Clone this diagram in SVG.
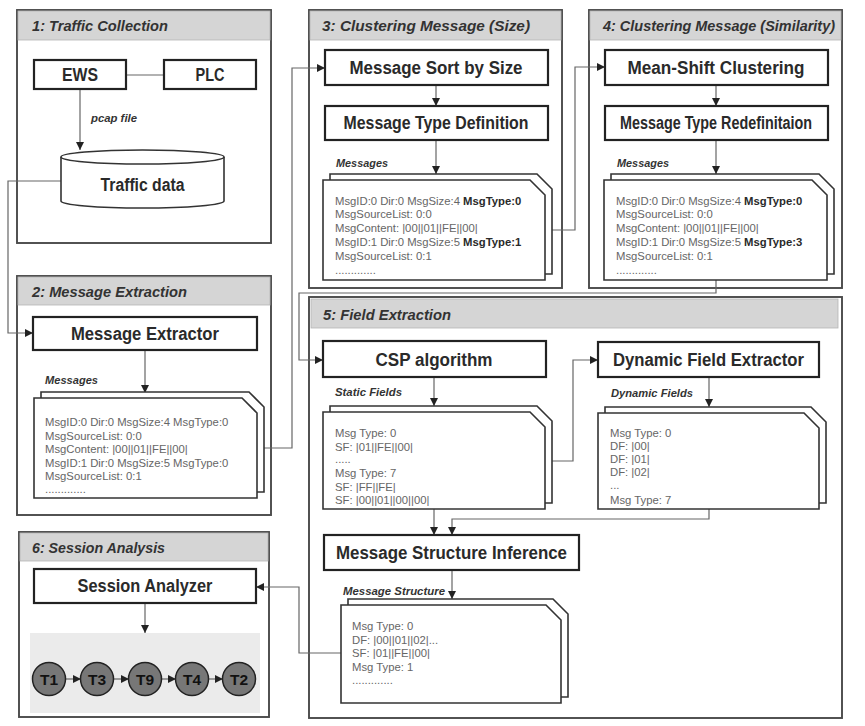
<svg xmlns="http://www.w3.org/2000/svg" width="865" height="726" viewBox="0 0 865 726">
<defs>
<style>
.frame{fill:#fff;stroke:#4a4a4a;stroke-width:1.9}
.hdr{fill:#d5d5d5;stroke:#b5b5b5;stroke-width:0.8}
.ttl{font-family:"Liberation Sans",Arial,sans-serif;font-style:italic;font-weight:bold;font-size:15px;fill:#333}
.box{fill:#fff;stroke:#222;stroke-width:2.2}
.bl{font-family:"Liberation Sans",Arial,sans-serif;font-weight:bold;font-size:18px;fill:#2a2a2a;text-anchor:middle}
.sheet{fill:#fff;stroke:#333;stroke-width:1.6}
.lbl{font-family:"Liberation Sans",Arial,sans-serif;font-style:italic;font-weight:bold;font-size:11.5px;fill:#333}
.msg{font-family:"Liberation Sans",Arial,sans-serif;font-size:11.3px;fill:#666}
.b{font-weight:bold;fill:#2a2a2a}
.con{fill:none;stroke:#666;stroke-width:1.2}
.circ{fill:#777;stroke:#222;stroke-width:1.5}
.ct{font-family:"Liberation Sans",Arial,sans-serif;font-weight:bold;font-size:15.5px;fill:#111;text-anchor:middle}
</style>
<marker id="ah" viewBox="0 0 10 10" refX="10" refY="5" markerWidth="8" markerHeight="8" markerUnits="userSpaceOnUse" orient="auto">
<path d="M0,0 L10,5 L0,10 Z" fill="#222"/>
</marker>
</defs>
<rect width="865" height="726" fill="#fff"/>

<!-- Panel frames -->
<g id="panel1">
<rect class="frame" x="17" y="10" width="254" height="233"/>
<rect class="hdr" x="18" y="11" width="252" height="29"/>
<text class="ttl" x="32" y="31" textLength="136" lengthAdjust="spacingAndGlyphs">1: Traffic Collection</text>
</g>
<g id="panel2">
<rect class="frame" x="17" y="276" width="254" height="239"/>
<rect class="hdr" x="18" y="277" width="252" height="28"/>
<text class="ttl" x="32" y="297" textLength="155" lengthAdjust="spacingAndGlyphs">2: Message Extraction</text>
</g>
<g id="panel3">
<rect class="frame" x="309" y="10" width="253" height="278"/>
<rect class="hdr" x="310" y="11" width="251" height="29"/>
<text class="ttl" x="322" y="31" textLength="208" lengthAdjust="spacingAndGlyphs">3: Clustering Message (Size)</text>
</g>
<g id="panel4">
<rect class="frame" x="589" y="10" width="253" height="278"/>
<rect class="hdr" x="590" y="11" width="251" height="29"/>
<text class="ttl" x="603" y="31" textLength="232" lengthAdjust="spacingAndGlyphs">4: Clustering Message (Similarity)</text>
</g>
<g id="panel5">
<rect class="frame" x="309" y="297" width="533" height="421"/>
<rect class="hdr" x="311" y="299" width="527" height="29"/>
<text class="ttl" x="323" y="320" textLength="128" lengthAdjust="spacingAndGlyphs">5: Field Extraction</text>
</g>
<g id="panel6">
<rect class="frame" x="19" y="532" width="250" height="185"/>
<rect class="hdr" x="20" y="533" width="248" height="28"/>
<text class="ttl" x="32" y="553" textLength="133" lengthAdjust="spacingAndGlyphs">6: Session Analysis</text>
<rect x="30" y="633" width="230" height="80" fill="#ebebeb"/>
</g>

<!-- Connectors -->
<g id="connectors">
<line class="con" x1="126" y1="75" x2="164" y2="75"/>
<path class="con" d="M80,89 V150" marker-end="url(#ah)"/>
<path class="con" d="M61,181 H8 V333 H33" marker-end="url(#ah)"/>
<path class="con" d="M257,448 H292 V68 H325" marker-end="url(#ah)"/>
<path class="con" d="M436,85 V106" marker-end="url(#ah)"/>
<path class="con" d="M436,140 V174" marker-end="url(#ah)"/>
<path class="con" d="M545,230 H575 V67 H605" marker-end="url(#ah)"/>
<path class="con" d="M716,85 V106" marker-end="url(#ah)"/>
<path class="con" d="M716,140 V174" marker-end="url(#ah)"/>
<path class="con" d="M716,280 V293 H299 V360 H323" marker-end="url(#ah)"/>
<path class="con" d="M145,350 V393" marker-end="url(#ah)"/>
<path class="con" d="M434,377 V406" marker-end="url(#ah)"/>
<path class="con" d="M545,461 H573 V360 H598" marker-end="url(#ah)"/>
<path class="con" d="M709,377 V407" marker-end="url(#ah)"/>
<path class="con" d="M434,509 V535" marker-end="url(#ah)"/>
<path class="con" d="M709,509 V519 H452 V535" marker-end="url(#ah)"/>
<path class="con" d="M452,570 V599" marker-end="url(#ah)"/>
<path class="con" d="M341,653 H299 V587 H256" marker-end="url(#ah)"/>
<path class="con" d="M145,603 V633" marker-end="url(#ah)"/>
<path class="con" d="M65,679 H81" marker-end="url(#ah)"/>
<path class="con" d="M113,679 H129" marker-end="url(#ah)"/>
<path class="con" d="M161,679 H176" marker-end="url(#ah)"/>
<path class="con" d="M208,679 H223" marker-end="url(#ah)"/>
</g>

<!-- Panel 1 nodes -->
<g id="ews">
<rect class="box" x="34" y="60" width="92" height="29"/>
<text class="bl" x="80" y="81" textLength="36" lengthAdjust="spacingAndGlyphs">EWS</text>
</g>
<g id="plc">
<rect class="box" x="164" y="60" width="92" height="29"/>
<text class="bl" x="210" y="81" textLength="29" lengthAdjust="spacingAndGlyphs">PLC</text>
</g>
<text class="lbl" x="91" y="122" fill="#444" textLength="46" lengthAdjust="spacingAndGlyphs">pcap file</text>
<g id="traffic-data">
<path d="M61,157 V201 A81.5,7 0 0 0 224,201 V157" fill="#fff" stroke="#333" stroke-width="1.6"/>
<ellipse cx="142.5" cy="157" rx="81.5" ry="7" fill="#fff" stroke="#333" stroke-width="1.6"/>
<text class="bl" x="142.5" y="191" font-size="17" textLength="84" lengthAdjust="spacingAndGlyphs">Traffic data</text>
</g>

<!-- Panel 2 nodes -->
<g id="message-extractor">
<rect class="box" x="33" y="317" width="224" height="33"/>
<text class="bl" x="145" y="340" textLength="148" lengthAdjust="spacingAndGlyphs">Message Extractor</text>
</g>
<g id="messages-2">
<text class="lbl" x="45" y="384" textLength="53" lengthAdjust="spacingAndGlyphs">Messages</text>
<path class="sheet" d="M41,392 H249 L264,407 V492 H41 Z"/>
<path class="sheet" d="M34,398 H242 L257,413 V498 H34 Z"/>
<text class="msg" x="45" y="426">MsgID:0 Dir:0 MsgSize:4 MsgType:0</text>
<text class="msg" x="45" y="440">MsgSourceList: 0:0</text>
<text class="msg" x="45" y="453">MsgContent: |00||01||FE||00|</text>
<text class="msg" x="45" y="467">MsgID:1 Dir:0 MsgSize:5 MsgType:0</text>
<text class="msg" x="45" y="480">MsgSourceList: 0:1</text>
<text class="msg" x="45" y="493" font-size="8">.............</text>
</g>

<!-- Panel 3 nodes -->
<g id="message-sort">
<rect class="box" x="325" y="50" width="223" height="35"/>
<text class="bl" x="436" y="74" textLength="173" lengthAdjust="spacingAndGlyphs">Message Sort by Size</text>
</g>
<g id="message-type-def">
<rect class="box" x="325" y="106" width="223" height="34"/>
<text class="bl" x="436" y="129" font-size="17" textLength="185" lengthAdjust="spacingAndGlyphs">Message Type Definition</text>
</g>
<g id="messages-3">
<text class="lbl" x="336" y="167" textLength="52" lengthAdjust="spacingAndGlyphs">Messages</text>
<path class="sheet" d="M330,174 H537 L552,189 V274 H330 Z"/>
<path class="sheet" d="M323,180 H530 L545,195 V280 H323 Z"/>
<text class="msg" x="335" y="205">MsgID:0 Dir:0 MsgSize:4 <tspan class="b">MsgType:0</tspan></text>
<text class="msg" x="335" y="218">MsgSourceList: 0:0</text>
<text class="msg" x="335" y="232">MsgContent: |00||01||FE||00|</text>
<text class="msg" x="335" y="246">MsgID:1 Dir:0 MsgSize:5 <tspan class="b">MsgType:1</tspan></text>
<text class="msg" x="335" y="260">MsgSourceList: 0:1</text>
<text class="msg" x="335" y="274" font-size="8">.............</text>
</g>

<!-- Panel 4 nodes -->
<g id="mean-shift">
<rect class="box" x="605" y="50" width="223" height="35"/>
<text class="bl" x="716" y="74" textLength="177" lengthAdjust="spacingAndGlyphs">Mean-Shift Clustering</text>
</g>
<g id="message-type-redef">
<rect class="box" x="605" y="106" width="223" height="34"/>
<text class="bl" x="716" y="129" font-size="16" textLength="192" lengthAdjust="spacingAndGlyphs">Message Type Redefinitaion</text>
</g>
<g id="messages-4">
<text class="lbl" x="617" y="167" textLength="52" lengthAdjust="spacingAndGlyphs">Messages</text>
<path class="sheet" d="M611,174 H819 L834,189 V274 H611 Z"/>
<path class="sheet" d="M604,180 H812 L827,195 V280 H604 Z"/>
<text class="msg" x="616" y="205">MsgID:0 Dir:0 MsgSize:4 <tspan class="b">MsgType:0</tspan></text>
<text class="msg" x="616" y="218">MsgSourceList: 0:0</text>
<text class="msg" x="616" y="232">MsgContent: |00||01||FE||00|</text>
<text class="msg" x="616" y="246">MsgID:1 Dir:0 MsgSize:5 <tspan class="b">MsgType:3</tspan></text>
<text class="msg" x="616" y="260">MsgSourceList: 0:1</text>
<text class="msg" x="616" y="274" font-size="8">.............</text>
</g>

<!-- Panel 5 nodes -->
<g id="csp">
<rect class="box" x="323" y="341" width="223" height="36"/>
<text class="bl" x="434" y="366" font-size="19" textLength="117" lengthAdjust="spacingAndGlyphs">CSP algorithm</text>
</g>
<g id="static-fields">
<text class="lbl" x="335" y="396" textLength="67" lengthAdjust="spacingAndGlyphs">Static Fields</text>
<path class="sheet" d="M330,406 H537 L552,421 V503 H330 Z"/>
<path class="sheet" d="M323,412 H530 L545,427 V509 H323 Z"/>
<text class="msg" x="335" y="437">Msg Type: 0</text>
<text class="msg" x="335" y="451">SF: |01||FE||00|</text>
<text class="msg" x="335" y="463" font-size="8">.....</text>
<text class="msg" x="335" y="477">Msg Type: 7</text>
<text class="msg" x="335" y="491">SF: |FF||FE|</text>
<text class="msg" x="335" y="504">SF: |00||01||00||00|</text>
</g>
<g id="dynamic-field-extractor">
<rect class="box" x="598" y="342" width="221" height="35"/>
<text class="bl" x="708.5" y="366" textLength="191" lengthAdjust="spacingAndGlyphs">Dynamic Field Extractor</text>
</g>
<g id="dynamic-fields">
<text class="lbl" x="611" y="397" textLength="82" lengthAdjust="spacingAndGlyphs">Dynamic Fields</text>
<path class="sheet" d="M605,407 H811 L826,422 V503 H605 Z"/>
<path class="sheet" d="M598,413 H804 L819,428 V509 H598 Z"/>
<text class="msg" x="610" y="437">Msg Type: 0</text>
<text class="msg" x="610" y="450">DF: |00|</text>
<text class="msg" x="610" y="463">DF: |01|</text>
<text class="msg" x="610" y="476">DF: |02|</text>
<text class="msg" x="610" y="489" font-size="8">...</text>
<text class="msg" x="610" y="504">Msg Type: 7</text>
</g>
<g id="msi">
<rect class="box" x="324" y="535" width="255" height="35"/>
<text class="bl" x="451.5" y="559" textLength="231" lengthAdjust="spacingAndGlyphs">Message Structure Inference</text>
</g>
<g id="message-structure">
<text class="lbl" x="343" y="595" textLength="102" lengthAdjust="spacingAndGlyphs">Message Structure</text>
<path class="sheet" d="M348,599 H553 L568,614 V697 H348 Z"/>
<path class="sheet" d="M341,605 H546 L561,620 V703 H341 Z"/>
<text class="msg" x="352" y="630">Msg Type: 0</text>
<text class="msg" x="352" y="644">DF: |00||01||02|...</text>
<text class="msg" x="352" y="657">SF: |01||FE||00|</text>
<text class="msg" x="352" y="671">Msg Type: 1</text>
<text class="msg" x="352" y="684" font-size="8">.............</text>
</g>

<!-- Panel 6 nodes -->
<g id="session-analyzer">
<rect class="box" x="34" y="569" width="222" height="34"/>
<text class="bl" x="145" y="592" textLength="135" lengthAdjust="spacingAndGlyphs">Session Analyzer</text>
</g>
<g id="t1"><circle class="circ" cx="49" cy="679" r="16.5"/><text class="ct" x="49" y="684.5">T1</text></g>
<g id="t3"><circle class="circ" cx="97" cy="679" r="16.5"/><text class="ct" x="97" y="684.5">T3</text></g>
<g id="t9"><circle class="circ" cx="145" cy="679" r="16.5"/><text class="ct" x="145" y="684.5">T9</text></g>
<g id="t4"><circle class="circ" cx="192" cy="679" r="16.5"/><text class="ct" x="192" y="684.5">T4</text></g>
<g id="t2"><circle class="circ" cx="239" cy="679" r="16.5"/><text class="ct" x="239" y="684.5">T2</text></g>
</svg>
